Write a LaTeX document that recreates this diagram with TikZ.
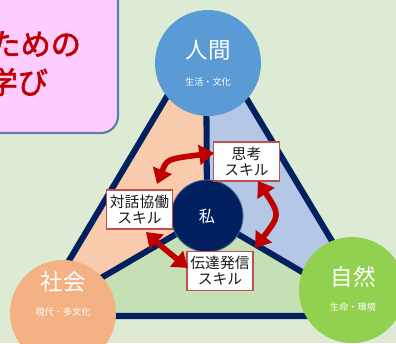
\documentclass[tikz,border=0pt]{standalone}
\usepackage{fontspec}
\setmainfont[AutoFakeBold=2]{Noto Sans CJK JP}
\usetikzlibrary{arrows.meta}
\definecolor{bgc}{HTML}{DEEBD4}
\definecolor{navy}{HTML}{002060}
\definecolor{peach}{HTML}{F8CBAD}
\definecolor{lblue}{HTML}{B4C7E7}
\definecolor{lgreen}{HTML}{C5E0B4}
\definecolor{cblue}{HTML}{5B9BD5}
\definecolor{corange}{HTML}{F4B183}
\definecolor{cgreen}{HTML}{92D050}
\definecolor{darkred}{HTML}{C00000}
\definecolor{boxred}{HTML}{C0504D}
\definecolor{pinkfill}{HTML}{FFCCFF}
\definecolor{steel}{HTML}{5B7FA6}
\tikzset{
  edge/.style={draw=navy, line width=4.3pt, line cap=round, line join=round},
  bigcircle/.style={circle, minimum size=26.5mm, inner sep=0pt},
  maintext/.style={text=white, font=\fontsize{16}{18}\selectfont},
  subtext/.style={text=white, font=\fontsize{6.5}{7}\selectfont},
  skillbox/.style={draw=boxred, fill=white, line width=0.8pt, rectangle, minimum width=16.5mm, minimum height=9.75mm, inner sep=0pt, align=center, text=black!90, font=\fontsize{10.5}{11.5}\selectfont},
  redarrow/.style={draw=darkred, line width=4pt, {Triangle[width=14pt,length=10.5pt]}-{Triangle[width=14pt,length=10.5pt]}},
  pinktext/.style={text=darkred, font=\bfseries\fontsize{21.5}{24}\selectfont}
}
\begin{document}
\begin{tikzpicture}[x=0.25mm, y=-0.25mm]
\useasboundingbox (0,0) rectangle (396,343);
\fill[bgc] (0,0) rectangle (396,343);
% triangle vertices
\coordinate (A) at (206,31);
\coordinate (L) at (36,316);
\coordinate (R) at (377,316);
\coordinate (C) at (207,216);
% regions
\fill[peach] (A) -- (C) -- (L) -- cycle;
\fill[lblue] (A) -- (C) -- (R) -- cycle;
\fill[lgreen] (L) -- (C) -- (R) -- cycle;
% lines
\draw[edge] (A) -- (L) -- (R) -- cycle;
\draw[edge] (C) -- (A);
\draw[edge] (C) -- (L);
\draw[edge] (C) -- (R);
% vertex circles
\node[bigcircle, fill=cblue] (human) at (208,63) {};
\node[maintext] (humant) at (208,50) {人間};
\node[subtext] (humans) at (208,82) {生活・文化};
\node[bigcircle, fill=corange] (society) at (63,313) {};
\node[maintext] (societyt) at (63,282) {社会};
\node[subtext] (societys) at (63,312) {現代・多文化};
\node[bigcircle, fill=cgreen] (nature) at (352,290) {};
\node[maintext] (naturet) at (353,277) {自然};
\node[subtext] (natures) at (353,307) {生命・環境};
% center
\node[circle, fill=navy, draw=navy!70!white, line width=0.6pt, minimum size=18mm, inner sep=0pt, text=white, font=\fontsize{11.5}{13}\selectfont] (me) at (C) {私};
% boxes
\node[skillbox] (think) at (246.5,161.5) {思考\\スキル};
\node[skillbox] (dialog) at (139.5,209.5) {対話協働\\スキル};
\node[skillbox] (send) at (220,271) {伝達発信\\スキル};
% arrows
\coordinate (a1s) at (157,184);
\coordinate (a1e) at (214,153);
\coordinate (a2s) at (258,181);
\coordinate (a2e) at (255,248);
\coordinate (a3s) at (146,232);
\coordinate (a3e) at (188,268);
\draw[redarrow] (a1s) .. controls (167,159) .. (a1e);
\draw[redarrow] (a2s) .. controls (280,215) .. (a2e);
\draw[redarrow] (a3s) .. controls (161,246) .. (a3e);
% pink box
\draw[fill=pinkfill, draw=steel, line width=1.5pt, rounded corners=4.25mm] (-30,-30) rectangle (118,133);
\node[pinktext, anchor=east] (t1) at (86,44) {ための};
\node[pinktext, anchor=east] (t2) at (53,82) {学び};
\end{tikzpicture}
\end{document}
